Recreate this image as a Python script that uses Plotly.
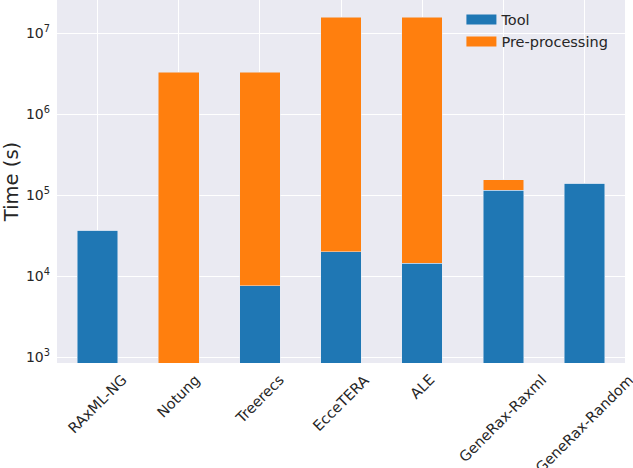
import plotly.graph_objects as go

categories = ["RAxML-NG", "Notung", "Treerecs", "EcceTERA", "ALE", "GeneRax-Raxml", "GeneRax-Random"]
tool_time = [37000, 0, 7600, 20000, 14400, 115000, 141000]
preprocessing_time = [0, 3300000, 3292400, 15780000, 15785600, 39000, 0]
ytick_vals = [1e3, 1e4, 1e5, 1e6, 1e7]
ytick_text = ["10<sup>3</sup>", "10<sup>4</sup>", "10<sup>5</sup>", "10<sup>6</sup>", "10<sup>7</sup>"]

BLUE = "#1f77b4"
ORANGE = "#ff7f0e"
FONT = "DejaVu Sans"
TXT = "#262626"

fig = go.Figure()
fig.add_trace(go.Bar(x=categories, y=tool_time, name="Tool", marker_color=BLUE,
                     width=0.5, showlegend=False, legendgroup="tool"))
fig.add_trace(go.Bar(x=categories, y=preprocessing_time, name="Pre-processing", marker_color=ORANGE,
                     width=0.5, showlegend=False, legendgroup="pre"))
# legend entries drawn as wide patches
fig.add_trace(go.Scatter(x=[None], y=[None], mode="lines", name="Tool",
                         line=dict(color=BLUE, width=10), legendgroup="tool"))
fig.add_trace(go.Scatter(x=[None], y=[None], mode="lines", name="Pre-processing",
                         line=dict(color=ORANGE, width=10), legendgroup="pre"))

for c in categories:
    fig.add_annotation(x=c, y=0, xref="x", yref="paper", text=c, textangle=-45,
                       showarrow=False, xanchor="center", yanchor="top", yshift=-6,
                       font=dict(family=FONT, size=14.5, color=TXT))

fig.update_layout(
    width=633, height=468,
    barmode="stack",
    margin=dict(l=57, r=8, t=0, b=105),
    paper_bgcolor="white",
    plot_bgcolor="#EAEAF2",
    font=dict(family=FONT, color=TXT),
    legend=dict(x=0.712, y=0.99, xanchor="left", yanchor="top", bgcolor="rgba(0,0,0,0)",
                font=dict(family=FONT, size=14.5, color=TXT), itemwidth=30,
                tracegroupgap=0),
    xaxis=dict(type="category", range=[-0.5, 6.5], showticklabels=False,
               showgrid=True, gridcolor="white", gridwidth=1.3, zeroline=False,
               showline=False, ticks=""),
    yaxis=dict(type="log", range=[2.926, 7.41], tickvals=ytick_vals, ticktext=ytick_text,
               showgrid=True, gridcolor="white", gridwidth=1.3, zeroline=False,
               showline=False, ticks="", ticklabelstandoff=6,
               tickfont=dict(family=FONT, size=14, color=TXT),
               title=dict(text="Time (s)", font=dict(family=FONT, size=19.5, color=TXT), standoff=10)),
)

fig.write_html("out.html", config={"displayModeBar": False},
               post_script="document.body.style.margin='0';")
